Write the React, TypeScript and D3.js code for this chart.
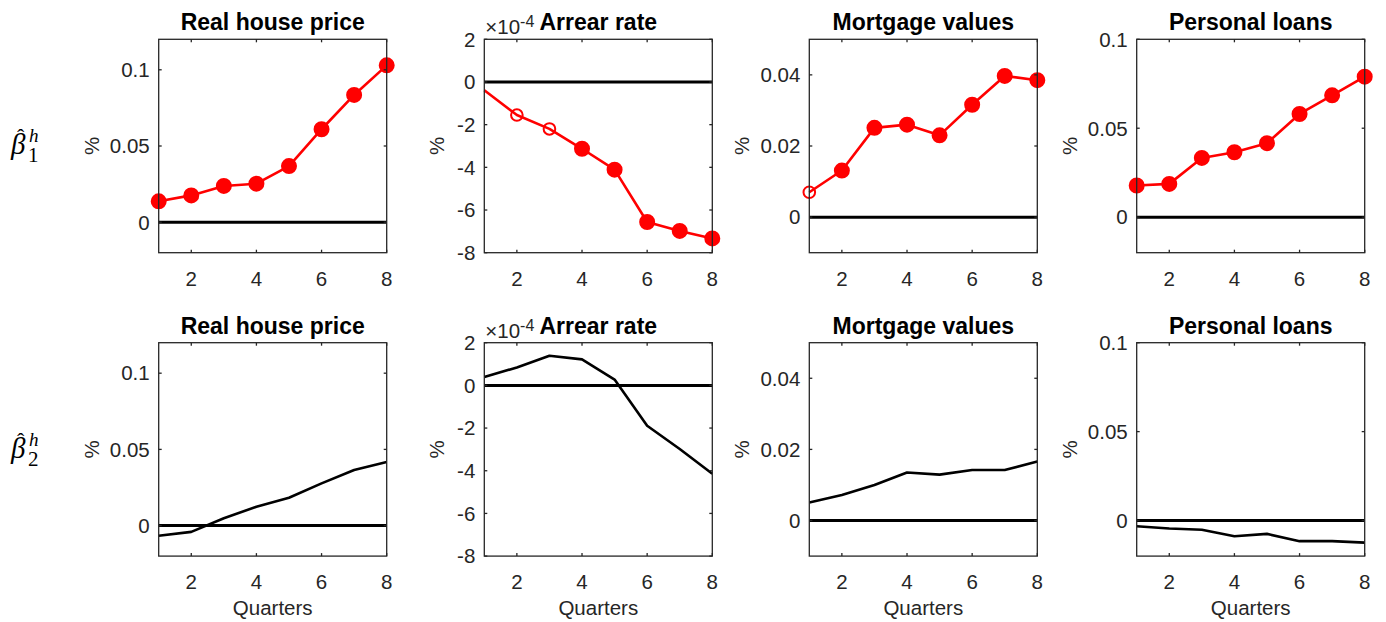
import React from "react";
import * as d3 from "d3";

const quarters = [1, 2, 3, 4, 5, 6, 7, 8];
const titles = ["Real house price", "Arrear rate", "Mortgage values", "Personal loans"];
const yDomains: [number, number][] = [[-0.02, 0.12], [-8, 2], [-0.01, 0.05], [-0.02, 0.1]];
const yTicks = [[0, 0.05, 0.1], [-8, -6, -4, -2, 0, 2], [0, 0.02, 0.04], [0, 0.05, 0.1]];
const yTickLabels = [["0", "0.05", "0.1"], ["-8", "-6", "-4", "-2", "0", "2"], ["0", "0.02", "0.04"], ["0", "0.05", "0.1"]];
const xTicks = [2, 4, 6, 8];

// beta_1 (top row); arrear rate in units of 1e-4
const beta1HousePrice = [0.0137, 0.0176, 0.0238, 0.0253, 0.0368, 0.061, 0.0835, 0.1029];
const beta1ArrearRate = [-0.39, -1.55, -2.2, -3.13, -4.11, -6.56, -6.98, -7.33];
const beta1Mortgage = [0.007, 0.0131, 0.0251, 0.026, 0.023, 0.0316, 0.0397, 0.0385];
const beta1Personal = [0.0178, 0.0187, 0.0333, 0.0365, 0.0416, 0.058, 0.0685, 0.079];
// marker kind: 0 none, 1 open, 2 filled
const beta1HousePriceMarks = [2, 2, 2, 2, 2, 2, 2, 2];
const beta1ArrearRateMarks = [0, 1, 1, 2, 2, 2, 2, 2];
const beta1MortgageMarks = [1, 2, 2, 2, 2, 2, 2, 2];
const beta1PersonalMarks = [2, 2, 2, 2, 2, 2, 2, 2];

// beta_2 (bottom row)
const beta2HousePrice = [-0.0066, -0.0041, 0.0048, 0.0124, 0.0183, 0.0277, 0.0365, 0.0417];
const beta2ArrearRate = [0.39, 0.84, 1.39, 1.22, 0.27, -1.89, -2.98, -4.14];
const beta2Mortgage = [0.0051, 0.0072, 0.01, 0.0135, 0.0129, 0.0142, 0.0142, 0.0166];
const beta2Personal = [-0.0032, -0.0045, -0.0052, -0.0088, -0.0075, -0.0116, -0.0116, -0.0124];

const topSeries = [beta1HousePrice, beta1ArrearRate, beta1Mortgage, beta1Personal];
const topMarks = [beta1HousePriceMarks, beta1ArrearRateMarks, beta1MortgageMarks, beta1PersonalMarks];
const bottomSeries = [beta2HousePrice, beta2ArrearRate, beta2Mortgage, beta2Personal];

const panelLefts = [158.7, 484.3, 809.3, 1136.7];
const panelWidth = 228;
const rowTops = [39.3, 342.7];
const panelHeight = 213.4;

const AX = "#262626";
const FONT = "'Liberation Sans', Arial, Helvetica, sans-serif";
const SERIF = "'Liberation Serif', 'Times New Roman', serif";
const TICK_FS = 20.5;

function Panel({ col, row, values, marks }: { col: number; row: number; values: number[]; marks?: number[] }) {
  const x0 = panelLefts[col];
  const y0 = rowTops[row];
  const x = d3.scaleLinear().domain([1, 8]).range([x0, x0 + panelWidth]);
  const y = d3.scaleLinear().domain(yDomains[col]).range([y0 + panelHeight, y0]);
  const line = d3.line<number>().x((_, i) => x(quarters[i])).y((d) => y(d));
  const color = marks ? "#ff0000" : "#000000";
  const tl = 3;
  const yb = y0 + panelHeight;
  const x1 = x0 + panelWidth;
  return (
    <g>
      <line x1={x(1)} x2={x(8)} y1={y(0)} y2={y(0)} stroke="#000" strokeWidth={3} />
      <path d={line(values) || ""} fill="none" stroke={color} strokeWidth={2.6} strokeLinejoin="round" />
      {marks &&
        values.map((v, i) =>
          marks[i] === 0 ? null : (
            <circle
              key={i}
              cx={x(quarters[i])}
              cy={y(v)}
              r={marks[i] === 2 ? 7 : 5.8}
              fill={marks[i] === 2 ? "#ff0000" : "none"}
              stroke="#ff0000"
              strokeWidth={2}
            />
          )
        )}
      <rect x={x0} y={y0} width={panelWidth} height={panelHeight} fill="none" stroke={AX} strokeWidth={1.3} />
      {xTicks.map((t) => (
        <g key={"x" + t}>
          <line x1={x(t)} x2={x(t)} y1={yb} y2={yb - tl} stroke={AX} strokeWidth={1.3} />
          <line x1={x(t)} x2={x(t)} y1={y0} y2={y0 + tl} stroke={AX} strokeWidth={1.3} />
          <text x={x(t)} y={yb + 33} textAnchor="middle" fontSize={TICK_FS} fill={AX} fontFamily={FONT}>
            {t}
          </text>
        </g>
      ))}
      {yTicks[col].map((t, i) => (
        <g key={"y" + t}>
          <line x1={x0} x2={x0 + tl} y1={y(t)} y2={y(t)} stroke={AX} strokeWidth={1.3} />
          <line x1={x1} x2={x1 - tl} y1={y(t)} y2={y(t)} stroke={AX} strokeWidth={1.3} />
          <text x={x0 - 9} y={y(t) + 7.3} textAnchor="end" fontSize={TICK_FS} fill={AX} fontFamily={FONT}>
            {yTickLabels[col][i]}
          </text>
        </g>
      ))}
      <text x={x0 + panelWidth / 2} y={y0 - 9} textAnchor="middle" fontSize={23} fontWeight="bold" fill="#000" fontFamily={FONT}>
        {titles[col]}
      </text>
      {col === 1 && (
        <text x={x0 + 1} y={y0 - 5} fontSize={TICK_FS} fill={AX} fontFamily={FONT}>
          {"\u00d710"}
          <tspan dy={-7} fontSize={16}>-4</tspan>
        </text>
      )}
      <text
        transform={`translate(${x0 - (col === 1 ? 40 : 60)},${y0 + panelHeight / 2}) rotate(-90)`}
        textAnchor="middle"
        fontSize={TICK_FS}
        fill={AX}
        fontFamily={FONT}
      >
        %
      </text>
      {row === 1 && (
        <text x={x0 + panelWidth / 2} y={yb + 59} textAnchor="middle" fontSize={TICK_FS} fill={AX} fontFamily={FONT}>
          Quarters
        </text>
      )}
    </g>
  );
}

function BetaLabel({ sub, cy }: { sub: string; cy: number }) {
  return (
    <text fontFamily={SERIF} fill="#000">
      <tspan x={11} y={cy + 9} fontSize={29} fontStyle="italic">β</tspan>
      <tspan x={17} y={cy - 1} fontSize={22}>ˆ</tspan>
      <tspan x={29} y={cy - 3} fontSize={19} fontStyle="italic">h</tspan>
      <tspan x={28} y={cy + 17} fontSize={21}>{sub}</tspan>
    </text>
  );
}

export default function App() {
  return (
    <svg width={1386} height={622} style={{ position: "absolute", left: 0, top: 0, background: "#fff" }}>
      <rect width={1386} height={622} fill="#fff" />
      {topSeries.map((v, c) => (
        <Panel key={"t" + c} col={c} row={0} values={v} marks={topMarks[c]} />
      ))}
      {bottomSeries.map((v, c) => (
        <Panel key={"b" + c} col={c} row={1} values={v} />
      ))}
      <BetaLabel sub="1" cy={145} />
      <BetaLabel sub="2" cy={449} />
    </svg>
  );
}
